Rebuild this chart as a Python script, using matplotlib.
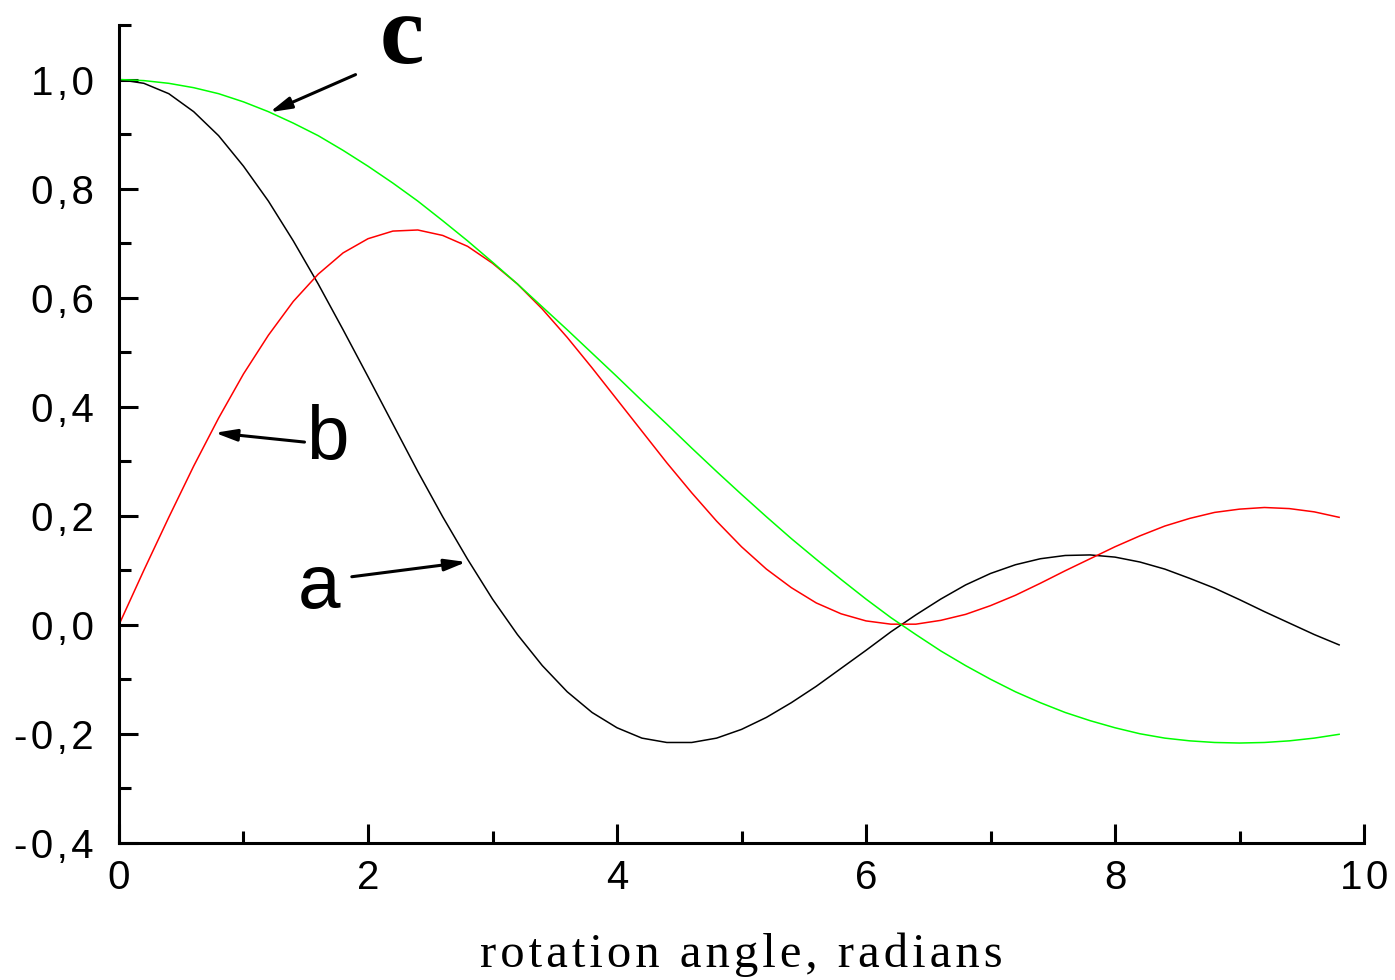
import matplotlib
matplotlib.use('Agg')
import matplotlib.pyplot as plt
from matplotlib.ticker import MultipleLocator, FuncFormatter

# rotation angle, radians (step 0.2)
angle = [0.0, 0.2, 0.4, 0.6, 0.8, 1.0, 1.2, 1.4, 1.6, 1.8,
         2.0, 2.2, 2.4, 2.6, 2.8, 3.0, 3.2, 3.4, 3.6, 3.8,
         4.0, 4.2, 4.4, 4.6, 4.8, 5.0, 5.2, 5.4, 5.6, 5.8,
         6.0, 6.2, 6.4, 6.6, 6.8, 7.0, 7.2, 7.4, 7.6, 7.8,
         8.0, 8.2, 8.4, 8.6, 8.8, 9.0, 9.2, 9.4, 9.6, 9.8]

# curve a (black)
curve_a = [1.000, 0.993, 0.974, 0.941, 0.897, 0.841, 0.777, 0.704, 0.625, 0.541,
           0.455, 0.368, 0.281, 0.198, 0.120, 0.047, -0.018, -0.075, -0.123, -0.161,
           -0.189, -0.208, -0.216, -0.216, -0.208, -0.192, -0.170, -0.143, -0.113, -0.080,
           -0.047, -0.013, 0.018, 0.047, 0.073, 0.094, 0.110, 0.121, 0.127, 0.128,
           0.124, 0.115, 0.102, 0.085, 0.067, 0.046, 0.024, 0.003, -0.018, -0.037]

# curve b (red)
curve_b = [0.000, 0.100, 0.197, 0.291, 0.379, 0.460, 0.531, 0.593, 0.643, 0.682,
           0.708, 0.722, 0.724, 0.714, 0.694, 0.663, 0.625, 0.579, 0.527, 0.471,
           0.413, 0.355, 0.297, 0.242, 0.190, 0.143, 0.102, 0.068, 0.040, 0.020,
           0.007, 0.001, 0.001, 0.008, 0.019, 0.035, 0.054, 0.076, 0.099, 0.121,
           0.143, 0.163, 0.181, 0.195, 0.206, 0.212, 0.215, 0.213, 0.207, 0.197]

# curve c (green)
curve_c = [1.000, 0.998, 0.993, 0.985, 0.974, 0.959, 0.941, 0.920, 0.897, 0.870,
           0.841, 0.810, 0.777, 0.741, 0.704, 0.665, 0.625, 0.583, 0.541, 0.498,
           0.455, 0.411, 0.368, 0.324, 0.281, 0.239, 0.198, 0.158, 0.120, 0.083,
           0.047, 0.013, -0.018, -0.048, -0.075, -0.100, -0.123, -0.143, -0.161, -0.176,
           -0.189, -0.200, -0.208, -0.213, -0.216, -0.217, -0.216, -0.213, -0.208, -0.201]

plt.rcParams['font.family'] = ['Liberation Sans', 'DejaVu Sans']

HS = '\u200a'  # hair space, to spread the letters a bit like the original


def spaced(s):
    return HS.join(s)


fig = plt.figure(figsize=(13.95, 9.8), dpi=100)
ax = fig.add_axes([0.0853, 0.140, 0.8925, 0.8345])

ax.plot(angle, curve_a, color='black', linewidth=1.1)
ax.plot(angle, curve_b, color='#ff0000', linewidth=1.1)
ax.plot(angle, curve_c, color='#00ff00', linewidth=1.1)

ax.set_xlim(0, 10)
ax.set_ylim(-0.4, 1.1)

ax.spines['top'].set_visible(False)
ax.spines['right'].set_visible(False)
for s in ['left', 'bottom']:
    ax.spines[s].set_linewidth(2.2)

ax.xaxis.set_major_locator(MultipleLocator(2))
ax.xaxis.set_minor_locator(MultipleLocator(1))
ax.yaxis.set_major_locator(MultipleLocator(0.2))
ax.yaxis.set_minor_locator(MultipleLocator(0.1))
ax.yaxis.set_major_formatter(FuncFormatter(
    lambda v, p: spaced(f"{v:.1f}".replace('.', ',').replace('\u2212', '-'))))
ax.xaxis.set_major_formatter(FuncFormatter(lambda v, p: spaced(f"{v:.0f}")))

ax.tick_params(which='major', direction='in', length=14, width=2.2, labelsize=29)
ax.tick_params(which='minor', direction='in', length=8.5, width=2.2)
ax.tick_params(axis='y', which='major', pad=18)
ax.tick_params(axis='x', which='major', pad=12)

ax.set_xlabel(spaced('rotation angle, radians'), family=['Liberation Serif', 'DejaVu Serif'],
              fontsize=35, labelpad=25)

# labels with arrows
arrow_kw = dict(arrowstyle='-|>,head_length=1.3,head_width=0.35', color='black', lw=2.2,
                shrinkA=0, shrinkB=0)
ax.annotate('', xy=(1.21, 0.94), xytext=(1.90, 1.009), arrowprops=arrow_kw)
ax.annotate('', xy=(0.77, 0.352), xytext=(1.49, 0.335), arrowprops=arrow_kw)
ax.annotate('', xy=(2.79, 0.115), xytext=(1.87, 0.088), arrowprops=arrow_kw)

ax.text(2.27, 1.031, 'c', family=['Liberation Serif', 'DejaVu Serif'], fontweight='bold',
        fontsize=72, ha='center', va='baseline')
ax.text(1.67, 0.34, 'b', fontsize=55, ha='center', va='center')
ax.text(1.61, 0.066, 'a', fontsize=55, ha='center', va='center')

fig.savefig('out.png', dpi=100)
